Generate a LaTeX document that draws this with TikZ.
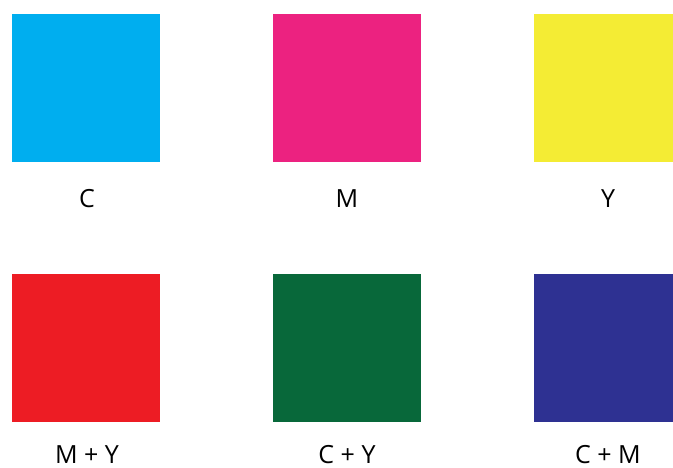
\documentclass[tikz,border=0pt]{standalone}
\usepackage{fontspec}
\setmainfont{Open Sans}
\definecolor{inkC}{RGB}{0,174,239}
\definecolor{inkM}{RGB}{236,34,128}
\definecolor{inkY}{RGB}{244,236,52}
\definecolor{inkMY}{RGB}{237,28,36}
\definecolor{inkCY}{RGB}{8,104,58}
\definecolor{inkCM}{RGB}{46,49,146}
\tikzset{
  swatch/.style={rectangle, minimum size=148pt, inner sep=0pt, outer sep=0pt},
  swatchlabel/.style={anchor=base, inner sep=0pt, font=\fontsize{25}{30}\selectfont}
}
\begin{document}
\begin{tikzpicture}[x=1pt, y=1pt]
  \useasboundingbox (0,0) rectangle (673,-468);
  \clip (0,0) rectangle (673,-468);

  % top row: the three process inks
  \node[swatch, fill=inkC] (cyan) at (86,-88) {};
  \node[swatch, fill=inkM] (magenta) at (347,-88) {};
  \node[swatch, fill=inkY] (yellow) at (608,-88) {};
  \node[swatchlabel] (cyanlabel) at (87,-208) {C};
  \node[swatchlabel] (magentalabel) at (347,-208) {M};
  \node[swatchlabel] (yellowlabel) at (608,-208) {Y};

  % bottom row: overprints of two inks
  \node[swatch, fill=inkMY] (red) at (86,-348) {};
  \node[swatch, fill=inkCY] (green) at (347,-348) {};
  \node[swatch, fill=inkCM] (blue) at (608,-348) {};
  \node[swatchlabel] (redlabel) at (87,-463) {M + Y};
  \node[swatchlabel] (greenlabel) at (347,-463) {C + Y};
  \node[swatchlabel] (bluelabel) at (608,-463) {C + M};
\end{tikzpicture}
\end{document}
